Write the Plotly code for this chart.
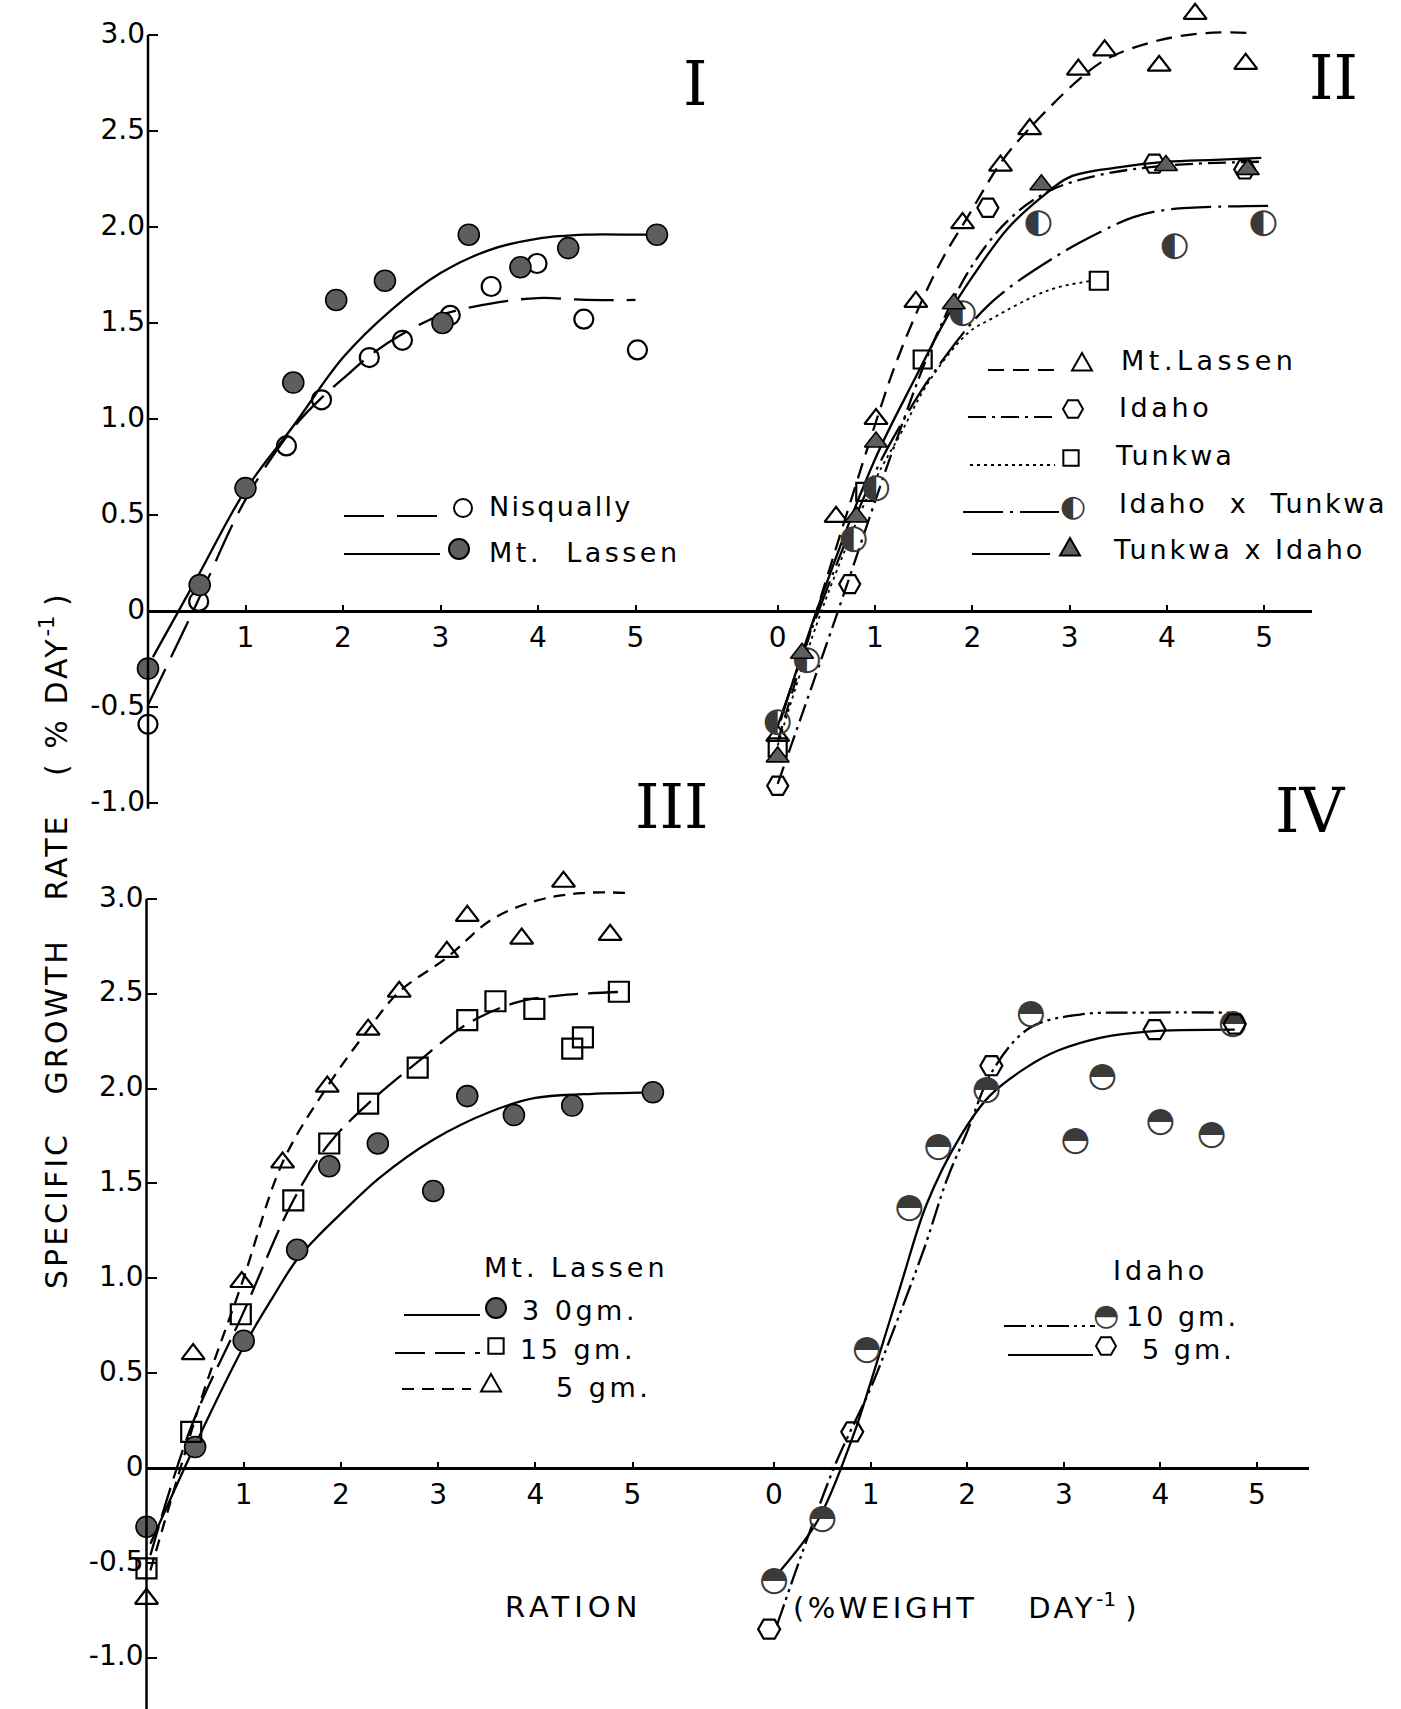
import plotly.graph_objects as go

W, H = 1401, 1709

# ---------------- data ----------------
# Panel I
p1_nisq_x = [0, 0.52, 1.42, 1.78, 2.27, 2.61, 3.10, 3.52, 3.99, 4.47, 5.02]
p1_nisq_y = [-0.59, 0.05, 0.86, 1.10, 1.32, 1.41, 1.54, 1.69, 1.81, 1.52, 1.36]
p1_lass_x = [0, 0.53, 1.0, 1.49, 1.93, 2.43, 3.02, 3.29, 3.82, 4.31, 5.22]
p1_lass_y = [-0.30, 0.135, 0.64, 1.19, 1.62, 1.72, 1.50, 1.96, 1.79, 1.89, 1.96]
p1_nisq_fit_x = [0, 0.5, 1.0, 1.5, 1.8, 2.0, 2.3, 2.6, 3.0, 3.5, 4.0, 4.5, 5.0]
p1_nisq_fit_y = [-0.49, 0.04, 0.58, 0.96, 1.12, 1.21, 1.34, 1.44, 1.54, 1.60, 1.63, 1.62, 1.62]
p1_lass_fit_x = [0.05, 0.5, 1.0, 1.5, 2.0, 2.5, 3.0, 3.5, 4.0, 4.5, 5.0, 5.22]
p1_lass_fit_y = [-0.24, 0.17, 0.63, 0.97, 1.32, 1.57, 1.76, 1.88, 1.94, 1.96, 1.96, 1.96]

# Panel II
p2_lass_x = [0, 0.60, 1.01, 1.42, 1.90, 2.29, 2.59, 3.09, 3.36, 3.92, 4.29, 4.81]
p2_lass_y = [-0.65, 0.49, 1.00, 1.61, 2.02, 2.32, 2.51, 2.82, 2.92, 2.84, 3.11, 2.85]
p2_idaho_x = [0, 0.74, 2.16, 3.87, 4.80]
p2_idaho_y = [-0.91, 0.14, 2.10, 2.33, 2.30]
p2_tunk_x = [0, 0.90, 1.49, 3.30]
p2_tunk_y = [-0.71, 0.62, 1.31, 1.72]
p2_ixt_x = [0, 0.30, 0.78, 1.01, 1.90, 2.68, 4.08, 4.99]
p2_ixt_y = [-0.58, -0.26, 0.37, 0.64, 1.55, 2.02, 1.90, 2.02]
p2_txi_x = [0, 0.25, 0.81, 1.01, 1.81, 2.71, 3.99, 4.83]
p2_txi_y = [-0.76, -0.22, 0.49, 0.88, 1.60, 2.22, 2.32, 2.30]
p2_lass_fit_x = [0, 0.4, 1.0, 1.2, 1.45, 1.7, 1.95, 2.3, 2.6, 3.1, 3.4, 3.9, 4.4, 4.9]
p2_lass_fit_y = [-0.68, 0.0, 0.97, 1.27, 1.58, 1.84, 2.05, 2.34, 2.52, 2.77, 2.88, 2.97, 3.01, 3.01]
p2_idaho_fit_x = [0, 0.62, 1.0, 1.22, 1.6, 2.0, 2.4, 2.8, 3.3, 4.0, 4.97]
p2_idaho_fit_y = [-0.9, 0.0, 0.57, 0.89, 1.40, 1.80, 2.05, 2.19, 2.27, 2.32, 2.34]
p2_tunk_fit_x = [0, 0.45, 1.0, 1.26, 1.56, 1.96, 2.19, 2.78, 3.23]
p2_tunk_fit_y = [-0.7, 0.0, 0.68, 0.92, 1.2, 1.45, 1.52, 1.67, 1.72]
p2_ixt_fit_x = [0, 0.42, 1.0, 1.3, 1.6, 2.18, 2.87, 3.3, 3.65, 4.0, 5.04]
p2_ixt_fit_y = [-0.6, 0.0, 0.72, 1.0, 1.24, 1.6, 1.85, 1.97, 2.05, 2.09, 2.11]
p2_txi_fit_x = [0.03, 0.4, 1.0, 1.4, 1.75, 2.0, 2.36, 2.7, 3.0, 3.5, 4.0, 4.5, 4.97]
p2_txi_fit_y = [-0.57, 0.0, 0.79, 1.2, 1.54, 1.74, 1.99, 2.15, 2.26, 2.31, 2.34, 2.35, 2.36]

# Panel III
p3_30_x = [0, 0.5, 1.0, 1.55, 1.88, 2.38, 2.95, 3.30, 3.78, 4.38, 5.21]
p3_30_y = [-0.31, 0.11, 0.67, 1.15, 1.59, 1.71, 1.46, 1.96, 1.86, 1.91, 1.98]
p3_15_x = [0, 0.46, 0.97, 1.51, 1.88, 2.28, 2.79, 3.30, 3.59, 3.99, 4.38, 4.49, 4.86]
p3_15_y = [-0.53, 0.19, 0.81, 1.41, 1.71, 1.92, 2.11, 2.36, 2.46, 2.42, 2.21, 2.27, 2.51]
p3_5_x = [0, 0.48, 0.98, 1.40, 1.86, 2.28, 2.60, 3.09, 3.30, 3.86, 4.29, 4.77]
p3_5_y = [-0.69, 0.60, 0.98, 1.61, 2.01, 2.31, 2.51, 2.72, 2.91, 2.79, 3.09, 2.81]
p3_30_fit_x = [0.04, 0.5, 1.0, 1.3, 1.55, 1.8, 2.0, 2.4, 2.95, 3.55, 4.0, 4.5, 5.21]
p3_30_fit_y = [-0.40, 0.12, 0.64, 0.90, 1.10, 1.24, 1.34, 1.53, 1.73, 1.88, 1.95, 1.97, 1.98]
p3_15_fit_x = [0.04, 0.47, 0.98, 1.51, 1.88, 2.28, 2.79, 3.3, 3.78, 4.24, 4.93]
p3_15_fit_y = [-0.46, 0.23, 0.80, 1.41, 1.71, 1.92, 2.14, 2.34, 2.45, 2.49, 2.51]
p3_5_fit_x = [0.04, 0.35, 0.6, 0.98, 1.40, 1.86, 2.28, 2.60, 3.09, 3.55, 4.01, 4.47, 5.0]
p3_5_fit_y = [-0.54, 0.0, 0.42, 0.97, 1.61, 2.01, 2.31, 2.51, 2.69, 2.89, 2.99, 3.03, 3.03]

# Panel IV
p4_10_x = [0, 0.50, 0.96, 1.40, 1.70, 2.20, 2.66, 3.12, 3.40, 4.0, 4.53, 4.75]
p4_10_y = [-0.60, -0.27, 0.62, 1.37, 1.69, 1.99, 2.39, 1.72, 2.06, 1.82, 1.75, 2.34]
p4_5_x = [-0.05, 0.81, 2.25, 3.94, 4.77]
p4_5_y = [-0.85, 0.19, 2.12, 2.31, 2.34]
p4_10_fit_x = [0.03, 0.62, 1.0, 1.24, 1.55, 1.79, 1.99, 2.27, 2.65, 3.17, 3.87, 4.79]
p4_10_fit_y = [-0.83, 0.0, 0.42, 0.73, 1.15, 1.52, 1.76, 2.10, 2.32, 2.39, 2.40, 2.40]
p4_5_fit_x = [0, 0.45, 0.82, 1.0, 1.31, 1.58, 1.92, 2.23, 2.61, 2.94, 3.4, 3.87, 4.77]
p4_5_fit_y = [-0.58, -0.28, 0.17, 0.45, 0.96, 1.39, 1.74, 1.96, 2.11, 2.20, 2.27, 2.30, 2.31]

y_ticks = [-1.0, -0.5, 0, 0.5, 1.0, 1.5, 2.0, 2.5, 3.0]
y_ticktext = ["-1.0", "-0.5", "0", "0.5", "1.0", "1.5", "2.0", "2.5", "3.0"]
x_ticks_left = [1, 2, 3, 4, 5]
x_ticks_right = [0, 1, 2, 3, 4, 5]

# ---------------- layout geometry (pixels) ----------------
FONT = "DejaVu Sans"
TOP_Y0, TOP_U = 611.0, 192.0
BOT_Y0, BOT_U = 1467.9, 189.7
panels = {
    'x':  dict(x0=148.0, u=97.5, left=148.0, right=700.0),
    'x2': dict(x0=777.7, u=97.3, left=700.0, right=1312.0),
    'x3': dict(x0=146.5, u=97.2, left=146.5, right=700.0),
    'x4': dict(x0=774.0, u=96.6, left=700.0, right=1309.0),
}

fig = go.Figure()
GRAY = '#5e5e5e'


def pts(xs, ys, xa, ya, symbol, size, filled=False):
    fig.add_trace(go.Scatter(
        x=xs, y=ys, xaxis=xa, yaxis=ya, mode='markers', cliponaxis=False,
        marker=dict(symbol=symbol, size=size,
                    color=GRAY if filled else 'black',
                    line=dict(color='black', width=1.6 if filled else 2.2))))


def glyphs(xs, ys, xa, ya, ch, size):
    fig.add_trace(go.Scatter(
        x=xs, y=ys, xaxis=xa, yaxis=ya, mode='text', cliponaxis=False,
        text=[ch] * len(xs), textposition='middle center',
        textfont=dict(family=FONT, size=size, color='#3a3a3a')))


def fit(xs, ys, xa, ya, dash, width=2.3):
    fig.add_trace(go.Scatter(
        x=xs, y=ys, xaxis=xa, yaxis=ya, mode='lines',
        line=dict(color='black', width=width, dash=dash, shape='spline', smoothing=1.0)))


# Panel I
fit(p1_nisq_fit_x, p1_nisq_fit_y, 'x', 'y', '40px,13px')
fit(p1_lass_fit_x, p1_lass_fit_y, 'x', 'y', 'solid')
pts(p1_nisq_x, p1_nisq_y, 'x', 'y', 'circle-open', 19)
pts(p1_lass_x, p1_lass_y, 'x', 'y', 'circle', 21, filled=True)

# Panel II
fit(p2_lass_fit_x, p2_lass_fit_y, 'x2', 'y', '16px,9px')
fit(p2_idaho_fit_x, p2_idaho_fit_y, 'x2', 'y', '18px,6px,3px,6px')
fit(p2_tunk_fit_x, p2_tunk_fit_y, 'x2', 'y', '3px,4px', width=1.8)
fit(p2_ixt_fit_x, p2_ixt_fit_y, 'x2', 'y', '40px,7px,3px,7px')
fit(p2_txi_fit_x, p2_txi_fit_y, 'x2', 'y', 'solid')
pts(p2_lass_x, p2_lass_y, 'x2', 'y', 'triangle-up-open', 20)
pts(p2_idaho_x, p2_idaho_y, 'x2', 'y', 'hexagon2-open', 21)
pts(p2_tunk_x, p2_tunk_y, 'x2', 'y', 'square-open', 18)
glyphs(p2_ixt_x, p2_ixt_y, 'x2', 'y', '\u25D0', 34)
pts(p2_txi_x, p2_txi_y, 'x2', 'y', 'triangle-up', 20, filled=True)

# Panel III
fit(p3_30_fit_x, p3_30_fit_y, 'x3', 'y2', 'solid')
fit(p3_15_fit_x, p3_15_fit_y, 'x3', 'y2', '30px,10px')
fit(p3_5_fit_x, p3_5_fit_y, 'x3', 'y2', '12px,8px')
pts(p3_30_x, p3_30_y, 'x3', 'y2', 'circle', 21, filled=True)
pts(p3_15_x, p3_15_y, 'x3', 'y2', 'square-open', 20)
pts(p3_5_x, p3_5_y, 'x3', 'y2', 'triangle-up-open', 20)

# Panel IV
fit(p4_10_fit_x, p4_10_fit_y, 'x4', 'y2', '22px,5px,3px,5px,3px,5px')
fit(p4_5_fit_x, p4_5_fit_y, 'x4', 'y2', 'solid')
glyphs(p4_10_x, p4_10_y, 'x4', 'y2', '\u25D3', 34)
pts(p4_5_x, p4_5_y, 'x4', 'y2', 'hexagon2-open', 22)


def xax(key, zero_py, tickvals):
    p = panels[key]
    return dict(domain=[p['left'] / W, p['right'] / W],
                range=[(p['left'] - p['x0']) / p['u'], (p['right'] - p['x0']) / p['u']],
                anchor='free', position=1 - zero_py / H,
                showline=True, linecolor='black', linewidth=2.5,
                showgrid=False, zeroline=False,
                tickmode='array', tickvals=tickvals, ticktext=[str(v) for v in tickvals],
                ticks='inside', ticklen=5, tickwidth=2, tickcolor='black',
                tickfont=dict(family=FONT, size=28, color='black'),
                ticklabelstandoff=1, fixedrange=True)


def yax(anchor, y0, u, top_px, bot_px):
    return dict(domain=[1 - bot_px / H, 1 - top_px / H],
                range=[(y0 - bot_px) / u, (y0 - top_px) / u],
                anchor=anchor, showline=False, showgrid=False, zeroline=False,
                tickmode='array', tickvals=y_ticks, ticktext=y_ticktext,
                ticks='inside', ticklen=10, tickwidth=2, tickcolor='black',
                tickfont=dict(family=FONT, size=28, color='black'),
                ticklabelshift=-2, ticklabelstandoff=2, fixedrange=True)


shapes = []
annotations = []

# vertical axis lines
shapes.append(dict(type='line', xref='paper', yref='y', x0=148.0 / W, x1=148.0 / W,
                   y0=-1.03, y1=3.0, line=dict(color='black', width=2.5)))
shapes.append(dict(type='line', xref='paper', yref='y2', x0=146.5 / W, x1=146.5 / W,
                   y0=-1.28, y1=3.0, line=dict(color='black', width=2.5)))


def P(x, y):
    return x / W, 1 - y / H


def spaced(text, ls):
    return f'<span style="letter-spacing:{ls}px">{text}</span>'


def leg_line(x0, x1, y, dash, width=2.2):
    a = P(x0, y)
    b = P(x1, y)
    shapes.append(dict(type='line', xref='paper', yref='paper', x0=a[0], x1=b[0], y0=a[1], y1=b[1],
                       line=dict(color='black', width=width, dash=dash)))


def leg_text(x, y, text, size=27, xanchor='left', ls=3.5, color='black'):
    px, py = P(x, y)
    annotations.append(dict(xref='paper', yref='paper', x=px, y=py,
                            text=spaced(text, ls) if ls else text, showarrow=False,
                            xanchor=xanchor, yanchor='middle',
                            font=dict(family=FONT, size=size, color=color)))


def poly_path(vs):
    s = ''
    for i, (vx, vy) in enumerate(vs):
        px, py = P(vx, vy)
        s += ('M' if i == 0 else 'L') + f'{px:.5f},{py:.5f}'
    return s + 'Z'


def leg_marker(kind, cx, cy, r=10, fill=False):
    fc = GRAY if fill else 'rgba(0,0,0,0)'
    ln = dict(color='black', width=2)
    if kind == 'circle':
        a = P(cx - r, cy + r)
        b = P(cx + r, cy - r)
        shapes.append(dict(type='circle', xref='paper', yref='paper', x0=a[0], y0=a[1], x1=b[0], y1=b[1],
                           line=ln, fillcolor=fc))
        return
    if kind == 'triangle':
        vs = [(cx, cy - r), (cx - r, cy + 0.75 * r), (cx + r, cy + 0.75 * r)]
    elif kind == 'square':
        k = 0.85 * r
        vs = [(cx - k, cy - k), (cx + k, cy - k), (cx + k, cy + k), (cx - k, cy + k)]
    else:  # hexagon with flat top
        vs = [(cx + r, cy), (cx + r / 2, cy - 0.87 * r), (cx - r / 2, cy - 0.87 * r),
              (cx - r, cy), (cx - r / 2, cy + 0.87 * r), (cx + r / 2, cy + 0.87 * r)]
    shapes.append(dict(type='path', xref='paper', yref='paper', path=poly_path(vs), line=ln, fillcolor=fc))


# Legend I
leg_line(344, 440, 516, '40px,13px')
leg_marker('circle', 463, 508, 9)
leg_text(487, 507, 'Nisqually', ls=2.2)
leg_line(344, 440, 554, 'solid')
leg_marker('circle', 459, 549, 10, fill=True)
leg_text(487, 552, 'Mt.\u00a0 Lassen', ls=3.5)

# Legend II
leg_line(988, 1062, 370, '16px,9px')
leg_marker('triangle', 1082, 363, 10)
leg_text(1119, 360, 'Mt.Lassen', ls=4.5)
leg_line(968, 1057, 417, '18px,6px,3px,6px')
leg_marker('hexagon', 1073, 409, 10)
leg_text(1117, 407, 'Idaho', ls=3.6)
leg_line(970, 1055, 465, '3px,4px', width=1.8)
leg_marker('square', 1071, 458, 9)
leg_text(1113, 455, 'Tunkwa', ls=3.0)
leg_line(963, 1059, 512, '40px,7px,3px,7px')
leg_text(1073, 505, '\u25D0', size=30, xanchor='center', ls=0, color='#3a3a3a')
leg_text(1117, 503, 'Idaho\u00a0 x\u00a0 Tunkwa', ls=2.6)
leg_line(972, 1050, 554, 'solid')
leg_marker('triangle', 1070, 548, 10, fill=True)
leg_text(1111, 550, 'Tunkwa x Idaho', ls=3.0)

# Legend III
leg_text(482, 1267, 'Mt.\u00a0Lassen', ls=4.0)
leg_line(404, 480, 1315, 'solid')
leg_marker('circle', 496, 1308, 10, fill=True)
leg_text(520, 1310, '3\u00a00gm.', ls=3.5)
leg_line(395, 480, 1353, '30px,10px')
leg_marker('square', 496, 1346, 9)
leg_text(518, 1349, '15\u00a0gm.', ls=3.5)
leg_line(402, 471, 1389, '12px,8px')
leg_marker('triangle', 491, 1384, 10)
leg_text(554, 1387, '5\u00a0gm.', ls=3.5)

# Legend IV
leg_text(1111, 1270, 'Idaho', ls=4.0)
leg_line(1004, 1095, 1326, '22px,5px,3px,5px,3px,5px')
leg_text(1106, 1314, '\u25D3', size=30, xanchor='center', ls=0, color='#3a3a3a')
leg_text(1124, 1316, '10\u00a0gm.', ls=3.0)
leg_line(1008, 1093, 1355, 'solid')
leg_marker('hexagon', 1106, 1346, 10)
leg_text(1140, 1349, '5\u00a0gm.', ls=3.0)

# Roman numerals
for txt, cx, cy in [('I', 695, 84), ('II', 1333, 78), ('III', 671, 807), ('IV', 1310, 810)]:
    px, py = P(cx, cy)
    annotations.append(dict(xref='paper', yref='paper', x=px, y=py, text=txt, showarrow=False,
                            xanchor='center', yanchor='middle',
                            font=dict(family='DejaVu Serif', size=62, color='black')))

# axis titles
px, py = P(54, 942)
annotations.append(dict(xref='paper', yref='paper', x=px, y=py, textangle=-90, showarrow=False,
                        text=spaced('SPECIFIC\u00a0\u00a0 GROWTH\u00a0\u00a0 RATE\u00a0\u00a0 (\u00a0%\u00a0DAY', 3)
                        + '<sup>-1</sup>\u00a0)',
                        xanchor='center', yanchor='middle',
                        font=dict(family=FONT, size=30, color='black')))
leg_text(573, 1607, 'RATION', size=29, xanchor='center', ls=5)
leg_text(965, 1606, '(%WEIGHT\u00a0\u00a0\u00a0 DAY', size=29, xanchor='center', ls=3.5)
# superscript part of the x title is appended to the last annotation
annotations[-1]['text'] += '<sup>-1</sup>\u00a0)'

fig.update_layout(
    width=W, height=H, margin=dict(l=0, r=0, t=0, b=0),
    paper_bgcolor='white', plot_bgcolor='rgba(0,0,0,0)', showlegend=False,
    xaxis=xax('x', TOP_Y0, x_ticks_left),
    xaxis2=xax('x2', TOP_Y0, x_ticks_right),
    xaxis3=xax('x3', BOT_Y0, x_ticks_left),
    xaxis4=xax('x4', BOT_Y0, x_ticks_right),
    yaxis=yax('x', TOP_Y0, TOP_U, 0, 830),
    yaxis2=yax('x3', BOT_Y0, BOT_U, 860, 1709),
    shapes=shapes, annotations=annotations,
)

fig.write_html("out.html")
